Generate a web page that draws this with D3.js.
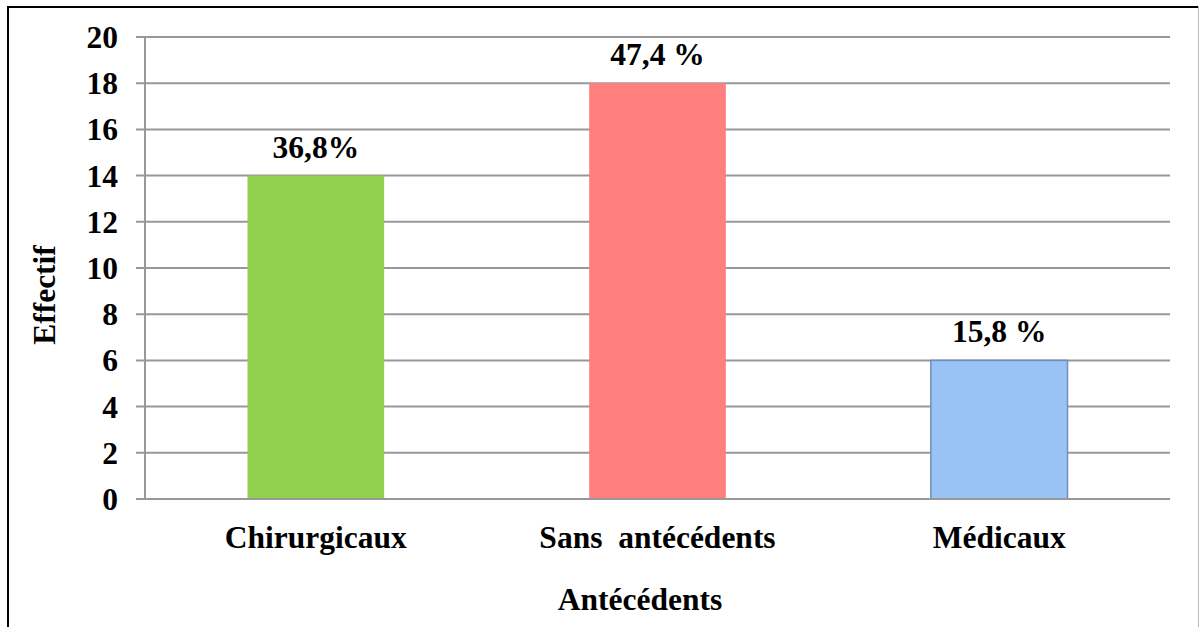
<!DOCTYPE html>
<html>
<head>
<meta charset="utf-8">
<script src="https://cdn.jsdelivr.net/npm/d3@7"></script>
<style>
  html, body { margin: 0; padding: 0; background: #fff; }
  svg { display: block; }
  text { font-family: "Liberation Serif", "Times New Roman", serif; font-weight: bold; fill: #000; }
</style>
</head>
<body>
<script>
// Patients grouped by medical history
const categories = ["Chirurgicaux", "Sans  antécédents", "Médicaux"];
const counts = [14, 18, 6];
const percentLabels = ["36,8%", "47,4 %", "15,8 %"];
const barColors = ["#92D050", "#FF7F7F", "#99C3F4"];
const barStrokes = ["none", "none", "#6D8FC0"];
const yTicks = [0, 2, 4, 6, 8, 10, 12, 14, 16, 18, 20];
const yTitle = "Effectif";
const xTitle = "Antécédents";

const W = 1200, H = 627;
const plot = { left: 145, right: 1170, top: 37, bottom: 499 };
const fontSize = 31.5;

const svg = d3.select("body").append("svg")
  .attr("width", W).attr("height", H);

// chart frame
svg.append("line").attr("x1", 8).attr("x2", 8).attr("y1", 6).attr("y2", H)
  .attr("stroke", "#000").attr("stroke-width", 2);
svg.append("line").attr("x1", 7).attr("x2", 1199).attr("y1", 7).attr("y2", 7)
  .attr("stroke", "#000").attr("stroke-width", 2);
svg.append("line").attr("x1", 1198.5).attr("x2", 1198.5).attr("y1", 6).attr("y2", H)
  .attr("stroke", "#bbb").attr("stroke-width", 1);

const x = d3.scaleBand()
  .domain(categories)
  .range([plot.left, plot.right])
  .paddingInner(0.6)
  .paddingOuter(0.3);

const y = d3.scaleLinear()
  .domain([0, 20])
  .range([plot.bottom, plot.top]);

// horizontal gridlines, extended left as tick marks
const grid = svg.append("g");
grid.selectAll("line").data(yTicks).join("line")
  .attr("x1", plot.left - 9).attr("x2", plot.right)
  .attr("y1", d => y(d)).attr("y2", d => y(d))
  .attr("stroke", "#989898").attr("stroke-width", 2);

// y axis line
svg.append("line")
  .attr("x1", plot.left).attr("x2", plot.left)
  .attr("y1", plot.top).attr("y2", plot.bottom)
  .attr("stroke", "#989898").attr("stroke-width", 2);

// y tick labels
svg.append("g").selectAll("text").data(yTicks).join("text")
  .attr("x", 118).attr("y", d => y(d) + 11)
  .attr("text-anchor", "end")
  .attr("font-size", fontSize)
  .text(d => d);

// bars
svg.append("g").selectAll("rect").data(counts).join("rect")
  .attr("x", (d, i) => x(categories[i]))
  .attr("width", x.bandwidth())
  .attr("y", d => y(d))
  .attr("height", d => y(0) - y(d))
  .attr("fill", (d, i) => barColors[i])
  .attr("stroke", (d, i) => barStrokes[i])
  .attr("stroke-width", 1.5);

// redraw baseline above bars
svg.append("line")
  .attr("x1", plot.left - 9).attr("x2", plot.right)
  .attr("y1", y(0)).attr("y2", y(0))
  .attr("stroke", "#989898").attr("stroke-width", 2);

// value labels
svg.append("g").selectAll("text").data(counts).join("text")
  .attr("x", (d, i) => x(categories[i]) + x.bandwidth() / 2)
  .attr("y", d => y(d) - 18)
  .attr("text-anchor", "middle")
  .attr("font-size", fontSize)
  .text((d, i) => percentLabels[i]);

// category labels
svg.append("g").selectAll("text").data(categories).join("text")
  .attr("x", d => x(d) + x.bandwidth() / 2)
  .attr("y", 548)
  .attr("text-anchor", "middle")
  .attr("font-size", fontSize)
  .style("white-space", "pre")
  .text(d => d);

// axis titles
svg.append("text")
  .attr("x", 640).attr("y", 610)
  .attr("text-anchor", "middle")
  .attr("font-size", fontSize)
  .text(xTitle);

svg.append("text")
  .attr("transform", "translate(55,295) rotate(-90)")
  .attr("text-anchor", "middle")
  .attr("font-size", fontSize)
  .text(yTitle);
</script>
</body>
</html>
